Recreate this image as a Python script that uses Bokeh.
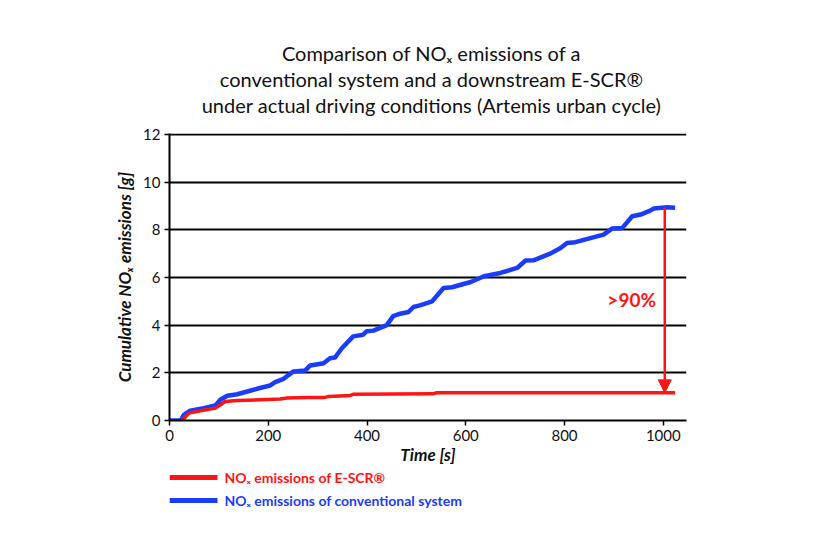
from bokeh.plotting import figure
from bokeh.models import Range1d, Arrow, NormalHead, FixedTicker
from bokeh.layouts import column
from bokeh.embed import file_html
from bokeh.resources import INLINE
from bokeh.core.properties import value

# ---------------- data ----------------
title_lines = [
    "Comparison of NOₓ emissions of a",
    "conventional system and a downstream E-SCR®",
    "under actual driving conditions (Artemis urban cycle)",
]
x_label = "Time [s]"
y_label = "Cumulative NOₓ emissions [g]"
x_ticks = [0, 200, 400, 600, 800, 1000]
y_ticks = [0, 2, 4, 6, 8, 10, 12]

blue_t = [0, 23, 29, 42, 69, 93, 103, 117, 137, 177, 204, 214, 231, 251, 275, 285,
          312, 325, 335, 349, 372, 392, 399, 413, 440, 453, 467, 484, 494, 507, 532,
          555, 572, 610, 637, 670, 704, 721, 737, 771, 792, 805, 822, 879, 896, 917,
          924, 937, 954, 971, 981, 1008, 1024]
blue_y = [0, 0, 0.24, 0.41, 0.52, 0.63, 0.87, 1.04, 1.10, 1.33, 1.47, 1.61, 1.75, 2.06,
          2.10, 2.31, 2.40, 2.61, 2.64, 3.03, 3.53, 3.60, 3.74, 3.77, 4.00, 4.38, 4.48,
          4.55, 4.76, 4.83, 5.00, 5.56, 5.59, 5.81, 6.05, 6.19, 6.40, 6.71, 6.72, 7.00,
          7.24, 7.45, 7.48, 7.80, 8.05, 8.08, 8.25, 8.57, 8.64, 8.78, 8.89, 8.95, 8.93]

red_t = [26, 39, 63, 93, 103, 113, 137, 184, 224, 238, 278, 315, 322, 366, 372, 534, 540, 1024]
red_y = [0, 0.31, 0.41, 0.52, 0.66, 0.80, 0.84, 0.87, 0.90, 0.94, 0.97, 0.97, 1.01, 1.05,
         1.10, 1.12, 1.16, 1.16]

arrow_t = 1003
arrow_top = 8.93
arrow_bottom = 1.16
reduction_label = ">90%"
reduction_t = 936
reduction_y = 5.08

legend_labels = ["NOₓ emissions of E-SCR®", "NOₓ emissions of conventional system"]

RED = "#ff1414"
BLUE = "#1a3cff"
FONT = "Lato"

common = dict(output_backend="svg", toolbar_location=None, title_location=None,
              background_fill_color="white", border_fill_color="white")

# ---------------- title strip (coordinates = page pixels) ----------------
tt = figure(frame_width=517, frame_height=123, x_range=Range1d(169, 686),
            y_range=Range1d(123, 0), x_axis_location=None, y_axis_location=None,
            min_border_left=169, min_border_right=20, min_border_top=0,
            min_border_bottom=0, **common)
tt.outline_line_color = None
tt.xgrid.visible = False
tt.ygrid.visible = False
title_y = [52, 78, 104]
tt.text(x=[431] * 3, y=title_y, text=title_lines, text_color="#111111",
        text_font=value(FONT), text_font_size="20px", text_align="center",
        text_baseline="middle")

# ---------------- main figure ----------------
p = figure(frame_width=517, frame_height=287,
           x_range=Range1d(0, 1047), y_range=Range1d(0, 12.04),
           min_border_left=169, min_border_right=20, min_border_top=10,
           min_border_bottom=50, **common)
p.outline_line_color = None

p.xgrid.visible = False
p.ygrid.grid_line_color = "black"
p.ygrid.grid_line_width = 2
p.xaxis.ticker = FixedTicker(ticks=x_ticks)
p.yaxis.ticker = FixedTicker(ticks=y_ticks)
for ax in (p.xaxis[0], p.yaxis[0]):
    ax.axis_line_color = "black"
    ax.axis_line_width = 2
    ax.major_tick_line_color = "black"
    ax.major_tick_line_width = 1.5
    ax.major_tick_in = 0
    ax.major_tick_out = 5
    ax.minor_tick_line_color = None
    ax.major_label_text_font = FONT
    ax.major_label_text_font_size = "15px"
    ax.major_label_text_color = "#111111"
    ax.axis_label_text_font = FONT
    ax.axis_label_text_font_size = "17px"
    ax.axis_label_text_font_style = "bold italic"
    ax.axis_label_text_color = "#111111"
p.xaxis.axis_label = x_label
p.yaxis.axis_label = y_label
p.xaxis.major_label_standoff = 4
p.xaxis.axis_label_standoff = 0
p.yaxis.major_label_standoff = 4
p.yaxis.axis_label_standoff = 5

p.line(blue_t, blue_y, line_color=BLUE, line_width=4.5, line_join="round")
p.line(red_t, red_y, line_color=RED, line_width=3.5, line_join="round")

p.add_layout(Arrow(end=NormalHead(size=13, fill_color=RED, line_color=RED),
                   x_start=arrow_t, y_start=arrow_top, x_end=arrow_t, y_end=arrow_bottom,
                   line_color=RED, line_width=2.5))
p.text(x=[reduction_t], y=[reduction_y], text=[reduction_label], text_color=RED,
       text_font=value(FONT), text_font_size="19px", text_font_style="bold",
       text_align="center", text_baseline="middle")

# ---------------- legend strip (coordinates = page pixels) ----------------
lg = figure(frame_width=517, frame_height=46, x_range=Range1d(169, 686),
            y_range=Range1d(516, 470), x_axis_location=None, y_axis_location=None,
            min_border_left=169, min_border_right=20, min_border_top=0,
            min_border_bottom=0, **common)
lg.outline_line_color = None
lg.xgrid.visible = False
lg.ygrid.visible = False
colors = [RED, BLUE]
rows_y = [477, 500]
for lab, c, yy in zip(legend_labels, colors, rows_y):
    lg.line([169, 217], [yy, yy], line_color=c, line_width=5)
    lg.text(x=[224], y=[yy], text=[lab], text_color=c, text_font=value(FONT),
            text_font_size="14px", text_font_style="bold", text_baseline="middle")

layout = column(tt, p, lg, spacing=0)
open("out.html", "w").write(file_html(layout, INLINE))
